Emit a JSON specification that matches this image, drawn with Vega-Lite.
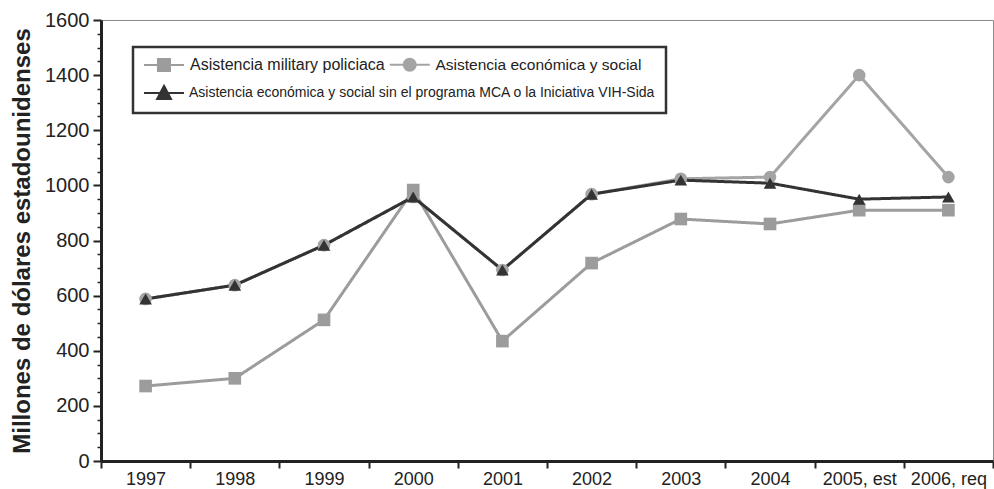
{
  "$schema": "https://vega.github.io/schema/vega-lite/v6.json",
  "width": 892,
  "height": 441,
  "autosize": "none",
  "padding": {"left": 101, "top": 20, "right": 1, "bottom": 28},
  "background": "white",
  "config": {
    "view": {"stroke": "#8a8a8a", "strokeWidth": 1},
    "font": "Liberation Sans",
    "legend": {"strokeWidth": 2.5}
  },
  "data": {
    "values": [
      {"year": "1997", "serie": "Asistencia económica y social", "value": 588},
      {"year": "1998", "serie": "Asistencia económica y social", "value": 638},
      {"year": "1999", "serie": "Asistencia económica y social", "value": 783},
      {"year": "2000", "serie": "Asistencia económica y social", "value": 958},
      {"year": "2001", "serie": "Asistencia económica y social", "value": 693},
      {"year": "2002", "serie": "Asistencia económica y social", "value": 968},
      {"year": "2003", "serie": "Asistencia económica y social", "value": 1024},
      {"year": "2004", "serie": "Asistencia económica y social", "value": 1030},
      {"year": "2005, est", "serie": "Asistencia económica y social", "value": 1400},
      {"year": "2006, req", "serie": "Asistencia económica y social", "value": 1030},
      {"year": "1997", "serie": "Asistencia military policiaca", "value": 272},
      {"year": "1998", "serie": "Asistencia military policiaca", "value": 300},
      {"year": "1999", "serie": "Asistencia military policiaca", "value": 512},
      {"year": "2000", "serie": "Asistencia military policiaca", "value": 983},
      {"year": "2001", "serie": "Asistencia military policiaca", "value": 435},
      {"year": "2002", "serie": "Asistencia military policiaca", "value": 718},
      {"year": "2003", "serie": "Asistencia military policiaca", "value": 878},
      {"year": "2004", "serie": "Asistencia military policiaca", "value": 860},
      {"year": "2005, est", "serie": "Asistencia military policiaca", "value": 910},
      {"year": "2006, req", "serie": "Asistencia military policiaca", "value": 910},
      {"year": "1997", "serie": "Asistencia económica y social sin el programa MCA o la Iniciativa VIH-Sida", "value": 588},
      {"year": "1998", "serie": "Asistencia económica y social sin el programa MCA o la Iniciativa VIH-Sida", "value": 638},
      {"year": "1999", "serie": "Asistencia económica y social sin el programa MCA o la Iniciativa VIH-Sida", "value": 783},
      {"year": "2000", "serie": "Asistencia económica y social sin el programa MCA o la Iniciativa VIH-Sida", "value": 958},
      {"year": "2001", "serie": "Asistencia económica y social sin el programa MCA o la Iniciativa VIH-Sida", "value": 693},
      {"year": "2002", "serie": "Asistencia económica y social sin el programa MCA o la Iniciativa VIH-Sida", "value": 968},
      {"year": "2003", "serie": "Asistencia económica y social sin el programa MCA o la Iniciativa VIH-Sida", "value": 1019},
      {"year": "2004", "serie": "Asistencia económica y social sin el programa MCA o la Iniciativa VIH-Sida", "value": 1008},
      {"year": "2005, est", "serie": "Asistencia económica y social sin el programa MCA o la Iniciativa VIH-Sida", "value": 950},
      {"year": "2006, req", "serie": "Asistencia económica y social sin el programa MCA o la Iniciativa VIH-Sida", "value": 958}
    ]
  },
  "encoding": {
    "x": {
      "field": "year",
      "type": "nominal",
      "sort": ["1997", "1998", "1999", "2000", "2001", "2002", "2003", "2004", "2005, est", "2006, req"],
      "scale": {"type": "band", "paddingInner": 0, "paddingOuter": 0},
      "axis": {
        "title": null,
        "labelAngle": 0,
        "tickBand": "extent",
        "domainColor": "#222",
        "domainWidth": 3,
        "tickColor": "#222",
        "tickWidth": 2,
        "tickSize": 7,
        "labelFontSize": 18,
        "labelColor": "#222",
        "labelPadding": 2
      }
    },
    "y": {
      "field": "value",
      "type": "quantitative",
      "scale": {"domain": [0, 1600], "nice": false},
      "axis": {
        "title": "Millones de dólares estadounidenses",
        "titleFontSize": 24,
        "titleFontWeight": "bold",
        "titleColor": "#222",
        "titlePadding": 10,
        "values": [0, 50, 100, 150, 200, 250, 300, 350, 400, 450, 500, 550, 600, 650, 700, 750, 800, 850, 900, 950, 1000, 1050, 1100, 1150, 1200, 1250, 1300, 1350, 1400, 1450, 1500, 1550, 1600],
        "labelExpr": "datum.value % 200 === 0 ? '' + datum.value : ''",
        "labelOverlap": false,
        "labelFontSize": 20,
        "labelColor": "#222",
        "labelPadding": 4,
        "grid": false,
        "domainColor": "#222",
        "domainWidth": 3,
        "tickColor": "#222",
        "tickWidth": {"condition": {"test": "datum.value % 200 === 0", "value": 2}, "value": 1.5},
        "tickSize": {"condition": {"test": "datum.value % 200 === 0", "value": 8}, "value": 4}
      }
    }
  },
  "layer": [
    {
      "mark": {"type": "line", "strokeWidth": 3},
      "encoding": {
        "color": {
          "field": "serie",
          "type": "nominal",
          "scale": {
            "domain": ["Asistencia military policiaca", "Asistencia económica y social", "Asistencia económica y social sin el programa MCA o la Iniciativa VIH-Sida"],
            "range": ["#9c9c9c", "#a4a4a4", "#333333"]
          },
          "legend": {
            "title": null,
            "values": ["Asistencia military policiaca"],
            "orient": "none",
            "legendX": 33,
            "legendY": 29,
            "padding": 8,
            "labelColor": "#222",
            "labelFontSize": 16,
            "labelLimit": 600,
            "symbolSize": 144,
            "symbolOpacity": 1,
            "symbolType": "M-1,0H5.67M1.33,-1H3.33V1H1.33Z",
            "symbolFillColor": "#9c9c9c",
            "symbolStrokeColor": "#9c9c9c",
            "symbolStrokeWidth": 2,
            "labelOffset": 32
          }
        },
        "strokeDash": {
          "field": "serie",
          "type": "nominal",
          "scale": {
            "domain": ["Asistencia económica y social sin el programa MCA o la Iniciativa VIH-Sida", "Asistencia military policiaca", "Asistencia económica y social"],
            "range": [[1, 0], [1, 0], [1, 0]]
          },
          "legend": {
            "title": " ",
            "titleFontSize": 18,
            "titlePadding": 5,
            "values": ["Asistencia económica y social sin el programa MCA o la Iniciativa VIH-Sida"],
            "orient": "none",
            "legendX": 32,
            "legendY": 27,
            "padding": 10,
            "strokeColor": "#333",
            "labelColor": "#222",
            "labelFontSize": 14,
            "labelLimit": 600,
            "symbolSize": 576,
            "symbolOpacity": 1,
            "symbolType": "M-1,0H2.33M0.67,-0.6L1.25,0.5H0.09Z",
            "symbolFillColor": "#333333",
            "symbolStrokeColor": "#333333",
            "symbolStrokeWidth": 2,
            "labelOffset": 20
          }
        }
      }
    },
    {
      "mark": {"type": "point", "filled": true, "opacity": 1},
      "encoding": {
        "fill": {
          "field": "serie",
          "type": "nominal",
          "scale": {
            "domain": ["Asistencia económica y social", "Asistencia military policiaca", "Asistencia económica y social sin el programa MCA o la Iniciativa VIH-Sida"],
            "range": ["#a4a4a4", "#9c9c9c", "#333333"]
          },
          "legend": {
            "title": null,
            "values": ["Asistencia económica y social"],
            "orient": "none",
            "legendX": 279,
            "legendY": 29,
            "padding": 8,
            "labelColor": "#222",
            "labelFontSize": 15.5,
            "labelLimit": 600,
            "symbolSize": 144,
            "symbolOpacity": 1,
            "symbolType": "M-1,0H5.67M1.33,0A1,1 0 1,0 3.33,0A1,1 0 1,0 1.33,0Z",
            "symbolFillColor": "#a4a4a4",
            "symbolStrokeColor": "#a4a4a4",
            "symbolStrokeWidth": 2,
            "labelOffset": 32
          }
        },
        "shape": {
          "field": "serie",
          "type": "nominal",
          "scale": {
            "domain": ["Asistencia económica y social", "Asistencia económica y social sin el programa MCA o la Iniciativa VIH-Sida", "Asistencia military policiaca"],
            "range": ["circle", "triangle-up", "square"]
          },
          "legend": null
        },
        "size": {"value": 160}
      }
    }
  ]
}
